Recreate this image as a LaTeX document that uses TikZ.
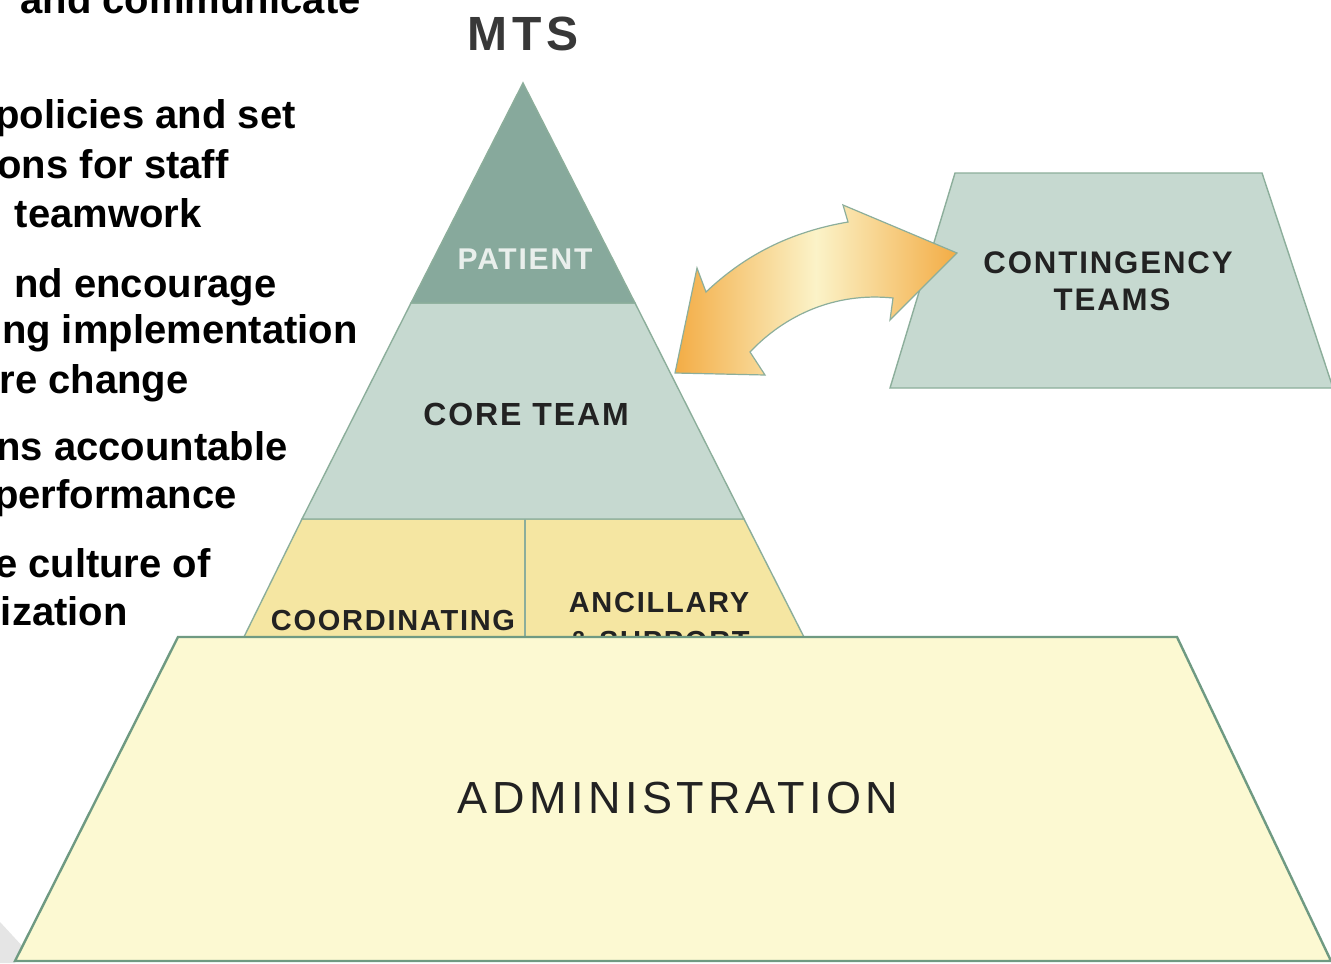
\documentclass[tikz,border=0pt]{standalone}
\usepackage{fontspec}
\setmainfont{Liberation Sans}
\newfontfamily\spacedfont[LetterSpace=6]{Liberation Sans}
\newfontfamily\widefont[LetterSpace=10]{Liberation Sans}
\usepackage{xcolor}
\usetikzlibrary{shadings}

\definecolor{patientgreen}{HTML}{87A99C}
\definecolor{coregreen}{HTML}{C6D9D0}
\definecolor{bandyellow}{HTML}{F5E6A2}
\definecolor{adminyellow}{HTML}{FCF9D2}
\definecolor{edgegreen}{HTML}{6F9A82}
\definecolor{arrowgold}{HTML}{F3AC45}
\definecolor{arrowpale}{HTML}{FBF3C8}
\definecolor{labelgray}{HTML}{222222}
\definecolor{patienttext}{HTML}{E9EFEC}

\tikzset{
  bullettext/.style={anchor=base east, inner sep=0pt, font=\fontsize{20}{24}\selectfont\bfseries},
  layerlabel/.style={anchor=base, inner sep=0pt, text=labelgray},
  layer/.style={draw=edgegreen!80, line width=0.7pt},
}

\begin{document}
\begin{tikzpicture}[x=0.5pt,y=-0.5pt]
\useasboundingbox (0,0) rectangle (1331,963);
\clip (0,0) rectangle (1331,963);
\fill[white] (0,0) rectangle (1331,963);

% Define coordinates for easier positioning
\coordinate (Top) at (523,83);
\coordinate (PL) at (411,303);
\coordinate (PR) at (635,303);
\coordinate (CL) at (302,519);
\coordinate (CR) at (744,519);
\coordinate (YL) at (240,645);
\coordinate (YR) at (808,645);
\coordinate (DT) at (525,519);
\coordinate (DB) at (525,645);

% Draw the left text (cut at the page edge)
\node[bullettext] (t1) at (361,14) {and communicate};
\node[bullettext] (t2) at (296,128) {policies and set};
\node[bullettext] (t3) at (229,178) {ons for staff};
\node[bullettext] (t4) at (202,227) {teamwork};
\node[bullettext] (t5) at (277,297) {nd encourage};
\node[bullettext] (t6) at (358,343) {ng implementation};
\node[bullettext] (t7) at (189,393) {re change};
\node[bullettext] (t8) at (288,460) {ns accountable};
\node[bullettext] (t9) at (237,508) {performance};
\node[bullettext] (t10) at (211,577) {e culture of};
\node[bullettext] (t11) at (128,625) {ization};

% Draw the pyramid layers
\filldraw[layer, fill=bandyellow] (CL) -- (CR) -- (YR) -- (YL) -- cycle;
\draw[layer] (DT) -- (DB);
\filldraw[layer, fill=coregreen] (PL) -- (PR) -- (CR) -- (CL) -- cycle;
\filldraw[layer, fill=patientgreen] (Top) -- (PR) -- (PL) -- cycle;

% Add pyramid labels
\node[layerlabel, font=\widefont\fontsize{24}{28}\selectfont\bfseries, text=labelgray!90] (mts) at (523,51) {MTS};
\node[layerlabel, text=patienttext, font=\spacedfont\fontsize{15}{18}\selectfont\bfseries] (patient) at (525,269) {PATIENT};
\node[layerlabel, font=\spacedfont\fontsize{16}{20}\selectfont\bfseries] (core) at (526,425) {CORE TEAM};
\node[layerlabel, font=\spacedfont\fontsize{14.5}{18}\selectfont\bfseries] (coord) at (393,630) {COORDINATING};
\node[layerlabel, font=\spacedfont\fontsize{14.5}{18}\selectfont\bfseries] (ancil) at (659,612) {ANCILLARY};
\node[layerlabel, font=\spacedfont\fontsize{14.5}{18}\selectfont\bfseries] (support) at (659,651) {\& SUPPORT};

% Draw the contingency teams block
\coordinate (KTL) at (955,173);
\coordinate (KTR) at (1262,173);
\coordinate (KBR) at (1333,388);
\coordinate (KBL) at (890,388);
\filldraw[layer, fill=coregreen] (KTL) -- (KTR) -- (KBR) -- (KBL) -- cycle;
\node[layerlabel, font=\spacedfont\fontsize{15.6}{20}\selectfont\bfseries] (cont) at (1108,273) {CONTINGENCY};
\node[layerlabel, font=\spacedfont\fontsize{15.6}{20}\selectfont\bfseries] (teams) at (1112,310) {TEAMS};

% Draw the double curved arrow
\coordinate (LTip) at (675,373);
\coordinate (RTip) at (957,253);
\draw[edgegreen!80, line width=0.6pt, left color=arrowgold, right color=arrowgold, middle color=arrowpale]
  (LTip) -- (697,268) -- (706,292)
  .. controls (745,255) and (790,232) .. (848,222)
  -- (843,205) -- (RTip) -- (890,320) -- (893,298)
  .. controls (835,292) and (785,315) .. (750,352)
  -- (765,375) -- cycle;

% Draw the administration block
\coordinate (ATL) at (178,637);
\coordinate (ATR) at (1177,637);
\coordinate (ABR) at (1331,961);
\coordinate (ABL) at (15,961);
\fill[black!10] (0,922) -- (24,948) -- (15,963) -- (0,963) -- cycle;
\filldraw[draw=edgegreen, line width=1.2pt, fill=adminyellow] (ATL) -- (ATR) -- (ABR) -- (ABL) -- cycle;
\node[layerlabel, font=\widefont\fontsize{22.5}{28}\selectfont] (admin) at (678,813) {ADMINISTRATION};

\end{tikzpicture}
\end{document}
